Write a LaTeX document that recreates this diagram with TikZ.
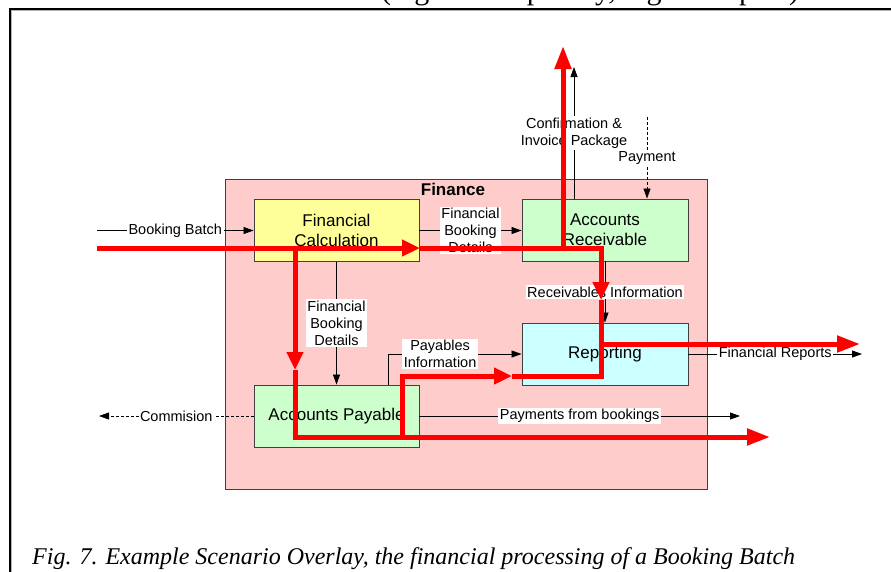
\documentclass[tikz,border=0pt]{standalone}
\usepackage{fontspec}
\setmainfont{Liberation Sans}
\newfontfamily\capfont{Liberation Serif}
\usetikzlibrary{arrows.meta}

\definecolor{finpink}{HTML}{FFCCCC}
\definecolor{calcyellow}{HTML}{FFFF99}
\definecolor{acctgreen}{HTML}{CCFFCC}
\definecolor{repcyan}{HTML}{CCFFFF}
\definecolor{edgegray}{HTML}{404040}
\definecolor{flowred}{HTML}{FF0000}

\tikzset{
  unit/.style={draw=edgegray, line width=0.9pt, minimum width=165pt, minimum height=62pt,
    inner sep=0pt, align=center, font=\fontsize{17}{20}\selectfont},
  conn/.style={draw=black, line width=0.8pt, -{Triangle[length=10pt,width=7pt]}},
  dashconn/.style={conn, dash pattern=on 3pt off 2pt},
  lbl/.style={fill=white, inner sep=1.5pt, align=center, font=\fontsize{14.5}{17}\selectfont},
  flow/.style={draw=flowred, line width=5pt},
  flowtip/.style={flow, -{Triangle[length=23pt,width=16pt]}},
  flowmid/.style={flow, -{Triangle[length=18pt,width=16pt]}},
}

\begin{document}
\begin{tikzpicture}[x=1pt,y=-1pt]
\useasboundingbox (0,0) rectangle (891,571);
\clip (0,0) rectangle (891,571);

% last line of the preceding paragraph, cut by the frame
\node[anchor=base, inner sep=0pt, font=\capfont\fontsize{30}{30}\selectfont] (prevline)
  at (590,-1) {(higher complexity, higher impact)};

% figure frame
\draw[line width=2pt] (895,8.5) -- (10,8.5) -- (10,575);
\draw[line width=0.7pt, gray!60] (895,10.3) -- (11.8,10.3) -- (11.8,575);

% Finance department
\node[draw=edgegray, fill=finpink, line width=0.9pt, minimum width=482pt,
  minimum height=310pt, inner sep=0pt] (fin) at (466,334) {};
\node[font=\bfseries\fontsize{17}{20}\selectfont, inner sep=0pt] (finT) at (453,189.5) {Finance};

% functional units
\node[unit, fill=calcyellow] (fc) at (336.5,230.5) {Financial\\Calculation};
\node[unit, fill=acctgreen, minimum width=166pt] (ar) at (605,230) {Accounts\\Receivable};
\node[unit, fill=repcyan, minimum width=166pt] (rep) at (605,354) {Reporting};
\node[unit, fill=acctgreen] (ap) at (336.5,416) {Accounts Payable};

% free ends of the information flows
\coordinate (bbIn) at (97,230.5);
\coordinate (commOut) at (99,416);
\coordinate (payOut) at (740,416);
\coordinate (repOut) at (862,354);
\coordinate (confOut) at (574,67);
\coordinate (payIn) at (647,117);
\coordinate (apUp) at (388,354);

% information flows
\draw[conn] (bbIn) -- node[lbl]{Booking Batch} (fc.west);
\draw[conn] (fc.east) -- node[lbl]{Financial\\Booking\\Details} (ar.west |- fc.east);
\draw[conn] (fc.south) -- node[lbl]{Financial\\Booking\\Details} (ap.north);
\draw[conn] (ar.south) -- node[lbl]{Receivables Information} (rep.north);
\draw[conn] (ap.north -| apUp) -- (apUp) -- node[lbl, pos=0.39]{Payables\\Information} (rep.west);
\draw[conn] (rep.east) -- node[lbl]{Financial Reports} (repOut);
\draw[conn] (ap.east) -- node[lbl]{Payments from bookings} (payOut);
\draw[dashconn] (ap.west) -- node[lbl]{Commision} (commOut);
\draw[conn] (ar.north -| confOut) -- node[lbl]{Confirmation \&\\Invoice Package} (confOut);
\draw[dashconn] (payIn) -- node[lbl]{Payment} (payIn |- ar.north);

% scenario overlay
\coordinate (r0) at (97,248);
\coordinate (r1) at (420,248);
\coordinate (rJ) at (601,248);
\coordinate (r2) at (601,300);
\coordinate (rB) at (601,376);
\coordinate (r3) at (512,376);
\coordinate (rC) at (402,376);
\coordinate (rD) at (402,437);
\coordinate (rUp0) at (563,248);
\coordinate (rUp) at (563,46);
\coordinate (rRep0) at (601,344);
\coordinate (rRep) at (860,344);
\coordinate (rL0) at (295,248);
\coordinate (rL1) at (295,370);
\coordinate (rL2) at (295,437);
\coordinate (rOut) at (770,437);

\draw[flowmid] (r0) -- (r1);
\draw[flowmid] (r1) -- (rJ) -- (r2);
\draw[flow] (r2) -- (rB) -- (r3);
\draw[flowmid] (rD) -- (rC) -- (r3);
\draw[flowtip] (rUp0) -- (rUp);
\draw[flowtip] (rRep0) -- (rRep);
\draw[flowmid] (rL0) -- (rL1);
\draw[flowtip] (rL1) -- (rL2) -- (rOut);

% caption
\node[anchor=base west, inner sep=0pt, font=\capfont\itshape\fontsize{24}{24}\selectfont] (cap)
  at (32,564) {Fig. 7. Example Scenario Overlay, the financial processing of a Booking Batch};
\end{tikzpicture}
\end{document}
